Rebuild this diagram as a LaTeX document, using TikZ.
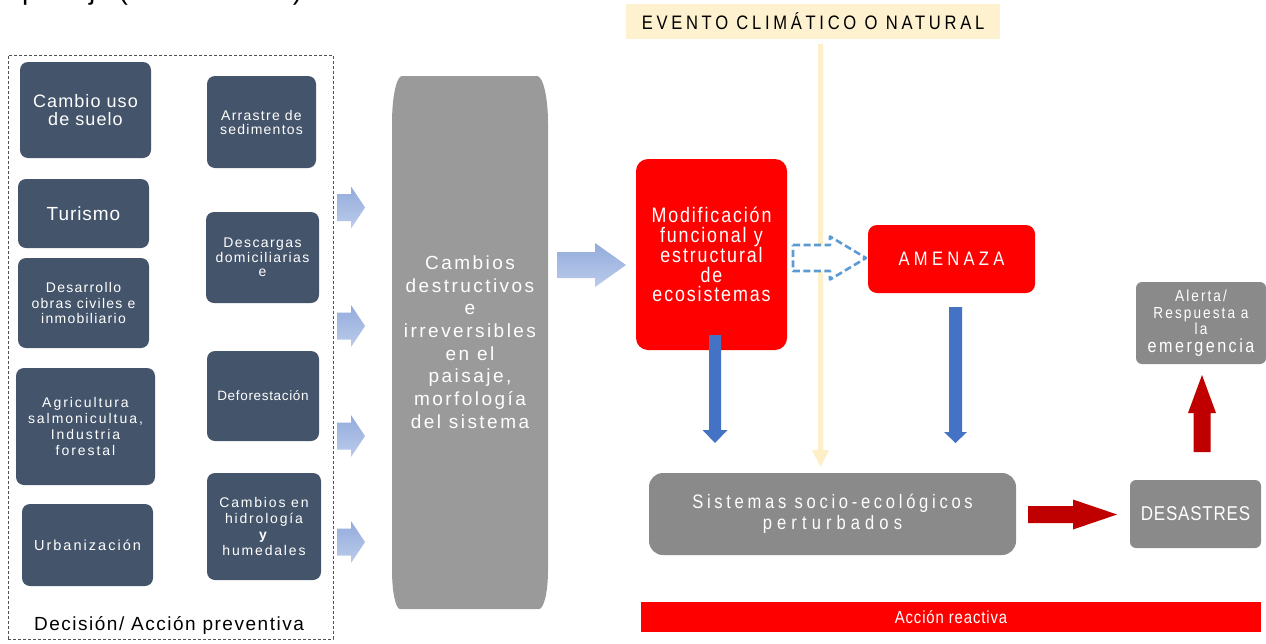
\documentclass[tikz,border=0pt]{standalone}
\usepackage{fontspec}
\setmainfont{Liberation Sans}
\newfontfamily\condfont[FakeStretch=0.85]{Liberation Sans}
\newcommand\lsp[1]{\addfontfeatures{LetterSpace=#1}}
\newcommand\fs[2]{\fontsize{#1}{#2}\selectfont}

\definecolor{navy}{HTML}{44546A}
\definecolor{biggray}{HTML}{9A9A9A}
\definecolor{midgray}{HTML}{8A8A8A}
\definecolor{redfill}{HTML}{FF0000}
\definecolor{darkred}{HTML}{C00000}
\definecolor{arrowblue}{HTML}{4472C4}
\definecolor{dashblue}{HTML}{5B9BD5}
\definecolor{creamfill}{HTML}{FDF1D0}
\definecolor{creamline}{HTML}{FDEFC8}
\definecolor{paleblueA}{HTML}{93ABDC}
\definecolor{paleblueB}{HTML}{BBCBEA}
\definecolor{framegray}{HTML}{505050}

% horizontal block arrow: style, x start, x head base, x tip, y centre, half shaft, half head
\newcommand\arrowR[7]{\path[#1] (#2,#5-#6) -- (#3,#5-#6) -- (#3,#5-#7) -- (#4,#5)
  -- (#3,#5+#7) -- (#3,#5+#6) -- (#2,#5+#6) -- cycle;}
% vertical block arrow: style, y start, y head base, y tip, x centre, half shaft, half head
\newcommand\arrowV[7]{\path[#1] (#5-#6,#2) -- (#5-#6,#3) -- (#5-#7,#3) -- (#5,#4)
  -- (#5+#7,#3) -- (#5+#6,#3) -- (#5+#6,#2) -- cycle;}

\tikzset{
  navybox/.style={fill=navy, rounded corners=8pt, text=white, align=center, inner sep=0pt},
  greybox/.style={fill=midgray, rounded corners=8pt, text=white, align=center, inner sep=0pt},
  redbox/.style={fill=redfill, rounded corners=12pt, text=white, align=center, inner sep=0pt},
  sz/.style 2 args={minimum width=#1pt, minimum height=#2pt},
  paleblue/.style={top color=paleblueA, bottom color=paleblueB},
}

\begin{document}
\begin{tikzpicture}[x=1pt,y=-1pt]
\useasboundingbox (0,0) rectangle (1266,643);
\fill[white] (0,0) rectangle (1266,643);

% heading cut by the top edge
\begin{scope}
  \clip (0,0) rectangle (1266,643);
  \node[anchor=base west, inner sep=0pt, font=\fs{28}{30}] (heading) at (22,-1) {paisaje (biodiversidad)};
\end{scope}

% ---------- preventive decisions ----------
\node[draw=framegray, line width=1pt, dash pattern=on 3pt off 2pt, sz={325}{584}, inner sep=0pt] (frame) at (170.5,347) {};

\node[navybox, sz={131}{96}, font=\lsp{6}\fs{18}{18}] (cambio) at (85.5,110) {Cambio uso\\de suelo};
\node[navybox, sz={131}{69}, font=\lsp{5}\fs{19}{20}] (turismo) at (83.5,213.5) {Turismo};
\node[navybox, sz={131}{90}, font=\lsp{9}\fs{14}{15.5}] (desarrollo) at (83.5,303) {Desarrollo\\obras civiles e\\inmobiliario};
\node[navybox, sz={139}{117}, font=\lsp{14}\fs{14}{16}] (agricultura) at (85.5,426.5) {Agricultura\\salmonicultua,\\Industria\\forestal};
\node[navybox, sz={131}{82}, font=\lsp{14}\fs{14.5}{16}] (urbanizacion) at (87.5,545) {Urbanización};

\node[navybox, sz={109}{92}, font=\lsp{9}\fs{14}{14}] (arrastre) at (261.5,122) {Arrastre de\\sedimentos};
\node[navybox, sz={113}{91}, font=\lsp{10}\fs{14}{14.5}] (descargas) at (262.5,257.5) {Descargas\\domiciliarias\\e};
\node[navybox, sz={112}{90}, font=\lsp{5}\fs{13.5}{15}] (deforestacion) at (263,396) {Deforestación};
\node[navybox, sz={114}{107}, font=\lsp{13}\fs{14}{16}] (hidrologia) at (264,526.5) {Cambios en\\hidrología\\\textbf{y}\\humedales};

\node[anchor=base, inner sep=0pt, font=\lsp{8}\fs{19}{22}] (decision) at (169,630) {Decisión/ Acción preventiva};

% pale arrows into the landscape column
\arrowR{paleblue}{337}{351}{365}{207.5}{13.5}{21}
\arrowR{paleblue}{337}{351}{365}{326}{13.5}{21}
\arrowR{paleblue}{337}{351}{365}{436}{13.5}{21}
\arrowR{paleblue}{337}{351}{365}{542}{13.5}{21}

% ---------- landscape change column ----------
\fill[biggray] (392,123) .. controls (392,97) and (396.5,76) .. (402,76) -- (537,76)
  .. controls (543,76) and (548,97) .. (548,123) -- (548,570)
  .. controls (548,591.5) and (544,609) .. (539,609) -- (400,609)
  .. controls (395.6,609) and (392,591.5) .. (392,570) -- cycle;
\node[text=white, align=center, inner sep=0pt, font=\lsp{13}\fs{19}{22.7}] (paisaje) at (470,342)
  {Cambios\\destructivos\\e\\irreversibles\\en el\\paisaje,\\morfología\\del sistema};

\arrowR{paleblue}{557}{595}{626}{265}{13}{22}

% ---------- climatic event ----------
\node[fill=creamfill, sz={374}{35}, inner sep=0pt, font=\condfont\lsp{19}\fs{19.5}{20}] (evento) at (813,21.5) {EVENTO CLIMÁTICO O NATURAL};
\coordinate (evtop) at (820.5,44);
\arrowV{fill=creamline}{44}{450}{467}{820.5}{2.5}{8.5}

% ---------- reactive chain ----------
\node[redbox, sz={151}{191}, font=\condfont\lsp{9}\fs{21}{19.5}] (modif) at (711.5,254.5)
  {Modificación\\funcional\hspace{0.35em}y\\estructural\\de\\ecosistemas};
\node[redbox, sz={167}{68}, rounded corners=9pt, font=\condfont\lsp{22}\fs{19.5}{20}] (amenaza) at (951.5,259) {AMENAZA};

\arrowR{fill=white, draw=dashblue, line width=2.6pt, dash pattern=on 7pt off 3.5pt, line join=round}{793}{830}{866}{258}{13}{21.5}

\node[greybox, sz={367}{82}, rounded corners=14pt, font=\condfont\lsp{19}\fs{19.5}{21}] (sistemas) at (832.5,514)
  {Sistemas socio-ecológicos\\{\lsp{26}perturbados}};
\node[greybox, sz={131}{68}, rounded corners=6pt, font=\condfont\lsp{4}\fs{20}{20}] (desastres) at (1195.5,514) {DESASTRES};
\node[greybox, sz={130}{82}, rounded corners=6pt, font=\condfont\lsp{13}\fs{16}{16.5}] (alerta) at (1201,323)
  {Alerta/\\Respuesta a\\la\\[1pt]{\fs{19}{20}emergencia}};

\arrowV{fill=arrowblue}{335}{430}{443}{715}{6}{12.5}
\arrowV{fill=arrowblue}{307}{432}{443}{955.5}{6.5}{11.5}
\arrowR{fill=darkred}{1028}{1073}{1117}{514.5}{8.5}{15}
\arrowV{fill=darkred}{452}{413}{375}{1202}{8.5}{14}

\node[fill=redfill, sz={620}{30}, inner sep=0pt, text=white, font=\condfont\lsp{5}\fs{17.5}{18}] (reactiva) at (951,617) {Acción reactiva};
\end{tikzpicture}
\end{document}
